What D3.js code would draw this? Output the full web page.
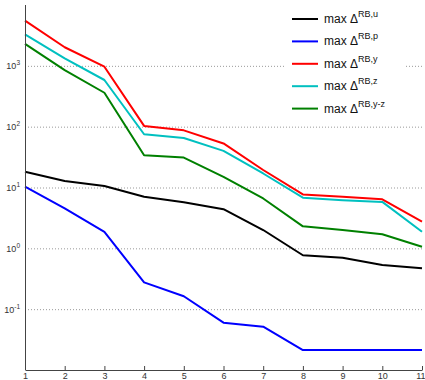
<!DOCTYPE html>
<html>
<head>
<meta charset="utf-8">
<script src="https://cdn.jsdelivr.net/npm/d3@7"></script>
<style>
  body { margin: 0; background: #fff; }
  svg { display: block; font-family: Arial, "Liberation Sans", sans-serif; }
  .axis path, .axis line { stroke: #444; }
  .axis text { fill: #333; font-size: 9px; }
  .grid line { stroke: #999; stroke-dasharray: 1,2; }
  .grid path { display: none; }
</style>
</head>
<body>
<div id="chart"></div>
<script>
// x positions 1..11
const steps = [1, 2, 3, 4, 5, 6, 7, 8, 9, 10, 11];

// values (log scale)
const maxU   = [18.2, 12.8, 10.6, 7.06, 5.7, 4.4, 2.0, 0.77, 0.70, 0.53, 0.47];
const maxP   = [10.3, 4.55, 1.87, 0.276, 0.163, 0.060, 0.0515, 0.0213, 0.0213, 0.0213, 0.0213];
const maxY   = [5520, 2020, 968, 103, 87, 53, 19.4, 7.7, 7.06, 6.4, 2.74];
const maxZ   = [3300, 1330, 585, 75, 65, 40, 17, 6.8, 6.2, 5.8, 1.87];
const maxYZ  = [2290, 850, 361, 34, 31, 15, 6.6, 2.3, 2.0, 1.70, 1.06];

const yTicks = [1e-1, 1e0, 1e1, 1e2, 1e3];
const seriesNames = ['u', 'p', 'y', 'z', 'y-z'];
const seriesColors = ['#000000', '#0000ff', '#ff0000', '#00c0c0', '#008000'];
const seriesData = [maxU, maxP, maxY, maxZ, maxYZ];

const width = 425, height = 380;
const plotLeft = 25, plotRight = 422, plotTop = 5, plotBottom = 370;

const svg = d3.select('#chart')
    .append('svg')
    .attr('width', width)
    .attr('height', height);

const xScale = d3.scaleLinear().domain([1, 11]).range([plotLeft, plotRight]);
const yScale = d3.scaleLog().domain([1e-2, 1e4]).range([plotBottom, plotTop]);

// dotted grid lines at decades
svg.append('g')
    .attr('class', 'grid')
    .attr('transform', 'translate(' + plotLeft + ',0)')
    .call(d3.axisLeft(yScale).tickValues(yTicks).tickSize(-(plotRight - plotLeft)).tickFormat(''));

// series lines
const line = d3.line()
    .x((d, i) => xScale(steps[i]))
    .y(d => yScale(d));

seriesData.forEach((vals, k) => {
    svg.append('path')
        .datum(vals)
        .attr('fill', 'none')
        .attr('stroke', seriesColors[k])
        .attr('stroke-width', 2)
        .attr('stroke-linejoin', 'round')
        .attr('d', line);
});

// x axis, ticks pointing inward
const xAxis = svg.append('g')
    .attr('class', 'axis')
    .attr('transform', 'translate(0,' + plotBottom + ')')
    .call(d3.axisBottom(xScale).tickValues(steps).tickSizeInner(-4).tickSizeOuter(0).tickPadding(3).tickFormat(d3.format('d')));

// keep the last label inside the window
xAxis.selectAll('.tick text')
    .filter(d => d === steps[steps.length - 1])
    .attr('text-anchor', 'end')
    .attr('x', 3);

// y axis with 10^n labels
const yAxis = svg.append('g')
    .attr('class', 'axis')
    .attr('transform', 'translate(' + plotLeft + ',0)')
    .call(d3.axisLeft(yScale).tickValues(yTicks).tickSize(0).tickPadding(5).tickFormat(''));

yAxis.select('.domain').attr('d', 'M0.5,' + plotTop + 'V' + plotBottom);

yAxis.selectAll('.tick text')
    .attr('text-anchor', 'end')
    .each(function(d) {
        const t = d3.select(this);
        t.append('tspan').text('10');
        t.append('tspan')
            .attr('dy', '-4')
            .attr('font-size', '6.5px')
            .text(Math.round(Math.log10(d)));
    });

// legend
const legend = svg.append('g').attr('transform', 'translate(286,6)');
legend.append('rect')
    .attr('x', 0).attr('y', 0)
    .attr('width', 120).attr('height', 114)
    .attr('fill', '#fff');

seriesNames.forEach((name, k) => {
    const ly = 13 + k * 22.4;
    legend.append('line')
        .attr('x1', 6).attr('x2', 32)
        .attr('y1', ly).attr('y2', ly)
        .attr('stroke', seriesColors[k])
        .attr('stroke-width', 2);
    const txt = legend.append('text')
        .attr('x', 38).attr('y', ly + 4)
        .attr('font-size', '12px')
        .attr('fill', '#111');
    txt.append('tspan').text('max ');
    txt.append('tspan').text('\u0394');
    txt.append('tspan')
        .attr('dy', '-6')
        .attr('font-size', '9px')
        .text('RB,' + name);
});
</script>
</body>
</html>
